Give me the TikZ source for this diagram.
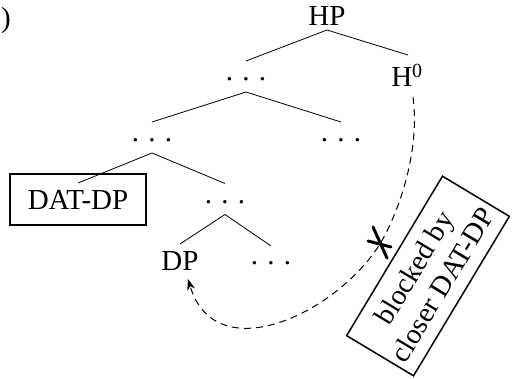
\documentclass[tikz,border=0pt]{standalone}
\usepackage{fontspec}
\setmainfont{Liberation Serif}
\usetikzlibrary{arrows.meta}
\newcommand\tdots{.\hspace{0.32em}.\hspace{0.32em}.}
\begin{document}
\begin{tikzpicture}[x=1pt,y=-1pt,
  lbl/.style={inner sep=0pt,anchor=base,font=\fontsize{29}{33}\selectfont},
  branch/.style={line width=0.8pt},
  framebox/.style={draw,line width=1.5pt,font=\fontsize{28.5}{33}\selectfont},
  movement/.style={line width=1pt,dash pattern=on 7pt off 5pt,-{Stealth[length=11pt,width=8pt]}},
  crossout/.style={line width=3pt,line cap=round}]
\useasboundingbox (0,0) rectangle (512,379);
\node[lbl,anchor=base east] (paren) at (11,28) {)};
\node[lbl] (hp) at (327,26) {HP};
\node[lbl] (d1) at (246,81) {\tdots};
\node[lbl] (h0) at (407,87) {H\textsuperscript{\fontsize{20}{20}\selectfont 0}};
\node[lbl] (d2l) at (152,142) {\tdots};
\node[lbl] (d2r) at (341,142) {\tdots};
\node[framebox,font=\fontsize{29}{33}\selectfont,minimum width=136pt,minimum height=51pt,inner sep=0pt] (dat) at (78,199.5) {DAT-DP};
\node[lbl] (d3) at (225,203.5) {\tdots};
\node[lbl] (dp) at (180,271) {DP};
\node[lbl] (d4) at (271,265) {\tdots};
\node[framebox,rotate=59,minimum width=186pt,minimum height=78pt,align=center,inner sep=2pt] (blk) at (428,276) {blocked by\\closer DAT-DP};
\draw[branch] ([yshift=-4pt]hp.base) -- ([yshift=20pt]d1.base);
\draw[branch] ([yshift=-4pt]hp.base) -- ([xshift=1pt,yshift=32pt]h0.base);
\draw[branch] ([yshift=-11pt]d1.base) -- ([yshift=20pt]d2l.base);
\draw[branch] ([yshift=-11pt]d1.base) -- ([yshift=20pt]d2r.base);
\draw[branch] ([yshift=-11pt]d2l.base) -- ([yshift=16.5pt]dat.center);
\draw[branch] ([yshift=-11pt]d2l.base) -- ([yshift=20pt]d3.base);
\draw[branch] ([yshift=-11pt]d3.base) -- ([yshift=27pt]dp.base);
\draw[branch] ([yshift=-11pt]d3.base) -- ([yshift=19pt]d4.base);
\coordinate (xm) at (380,244);
\draw[movement] ([xshift=6pt,yshift=-10pt]h0.base) .. controls (420,150) and (400,210) .. (xm)
  .. controls (335,315) and (215,370) .. ([xshift=8pt,yshift=-8pt]dp.base);
\draw[crossout] ([shift={(-7,-17)}]xm) -- ([shift={(7,14)}]xm);
\draw[crossout] ([shift={(-12,-3)}]xm) -- ([shift={(11,3)}]xm);
\end{tikzpicture}
\end{document}
